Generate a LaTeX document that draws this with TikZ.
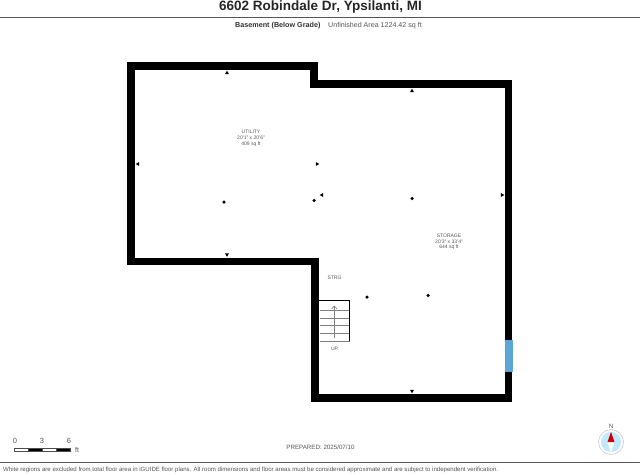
\documentclass[tikz,border=0pt]{standalone}
\usepackage{fontspec}
\setmainfont{Liberation Sans}
\definecolor{labelgray}{HTML}{555555}
\definecolor{rulegray}{HTML}{555555}
\definecolor{windowblue}{HTML}{5BA7D6}
\tikzset{
    wall/.style={line width=7.7pt, miter limit=10},
    stairline/.style={line width=0.5pt, color=gray},
    roomlabel/.style={inner sep=0pt, text=labelgray, font=\fontsize{5}{5}\selectfont},
    footlabel/.style={inner sep=0pt, text=labelgray, font=\fontsize{6.2}{6.2}\selectfont},
    markdot/.style={circle, fill=black, inner sep=0pt, minimum size=3.5pt},
    marktick/.style={regular polygon, regular polygon sides=3, fill=black, inner sep=0pt, minimum size=4.6pt},
}
\usetikzlibrary{shapes.geometric}
\begin{document}
\begin{tikzpicture}[x=1pt, y=-1pt]
    \useasboundingbox (0,0) rectangle (640,474);
    % header
    \node[inner sep=0pt, font=\fontsize{13.5}{14}\selectfont\bfseries, text=black!85] (title) at (320.5,7) {6602 Robindale Dr, Ypsilanti, MI};
    \coordinate (ruleTopL) at (0,17);
    \coordinate (ruleTopR) at (640,17);
    \draw[rulegray, line width=0.9pt] (ruleTopL) -- (ruleTopR);
    \node[inner sep=0pt, anchor=west, font=\fontsize{7.2}{7.2}\selectfont\bfseries, text=black!80] (level) at (235,25.5) {Basement (Below Grade)};
    \node[inner sep=0pt, anchor=west, font=\fontsize{7.1}{7.1}\selectfont, text=labelgray] (area) at (328,25.5) {Unfinished Area 1224.42 sq ft};
    % walls
    \draw[wall] (131.2,65.8) -- (313.9,65.8) -- (313.9,84.3) -- (508.5,84.3) -- (508.5,397.9)
        -- (315,397.9) -- (315,261.5) -- (131.2,261.5) -- cycle;
    \fill[windowblue] (504.5,339.5) rectangle (512.7,371.7);
    % stairs
    \foreach \y in {310.7,318.3,325.7,333.3}
        \draw[stairline] (320,\y) -- (349,\y);
    \draw[stairline] (319.5,341) -- (349.5,341);
    \draw[stairline, line width=0.6pt] (334.3,338) -- (334.3,306);
    \draw[stairline, line width=0.6pt] (331.5,309) -- (334.3,306) -- (337.1,309);
    \draw[line width=1.3pt] (319,300.8) -- (349.6,300.8) -- (349.6,341);
    % markers
    \foreach \name/\x/\y in {a/224/202, b/314/200.5, c/412/198.5, d/367/297, e/428/295.5}
        \node[markdot] (dot\name) at (\x,\y) {};
    \foreach \name/\x/\y/\ang in {a/227/73/0, b/412/91/0, c/138/164/90, d/317/164/-90, e/322/195/90, f/502/195/-90, g/227/254.5/180, h/412/391/180}
        \node[marktick, rotate=\ang] (tick\name) at (\x,\y) {};
    % rooms
    \node[roomlabel] (utility) at (251,132) {UTILITY};
    \node[roomlabel] (utilitysize) at (251,138) {20'1" x 20'6"};
    \node[roomlabel] (utilityarea) at (251,144) {409 sq ft};
    \node[roomlabel] (storage) at (449,236) {STORAGE};
    \node[roomlabel] (storagesize) at (449,241.5) {20'3" x 33'4"};
    \node[roomlabel] (storagearea) at (449,247) {644 sq ft};
    \node[roomlabel] (strg) at (334.5,278) {STRG};
    \node[roomlabel] (up) at (334.5,349) {UP};
    % scale bar
    \foreach \x/\c in {14/white, 28/black, 42/white, 56/black}
        \draw[black!70, line width=0.3pt, fill=\c] (\x,448) rectangle (\x+14,451);
    \foreach \x/\t in {15/0, 42/3, 69/6}
        \node[footlabel, font=\fontsize{7.5}{7.5}\selectfont] (scale\t) at (\x,441) {\t};
    \node[footlabel, font=\fontsize{7}{7}\selectfont] (scaleft) at (77,449.5) {ft};
    \node[footlabel] (prepared) at (320.5,447) {PREPARED: 2025/07/10};
    % compass
    \node[footlabel] (north) at (611,426) {N};
    \node[circle, draw=black!25, fill=white, line width=0.5pt, minimum size=25pt, inner sep=0pt] (compass) at (611,442) {};
    \node[circle, fill=blue!35!cyan!25, minimum size=20pt, inner sep=0pt] (dial) at (compass) {};
    \fill[white] (607.5,442) -- (611,453) -- (614.5,442) -- cycle;
    \fill[red!80!black] (607.5,442) -- (611,432) -- (614.5,442) -- cycle;
    % footer
    \coordinate (ruleBotL) at (0,462);
    \coordinate (ruleBotR) at (640,462);
    \draw[rulegray, line width=0.9pt] (ruleBotL) -- (ruleBotR);
    \node[footlabel, anchor=west, font=\fontsize{6.08}{6.2}\selectfont] (disclaimer) at (3,470) {White regions are excluded from total floor area in iGUIDE floor plans. All room dimensions and floor areas must be considered approximate and are subject to independent verification.};
\end{tikzpicture}
\end{document}
